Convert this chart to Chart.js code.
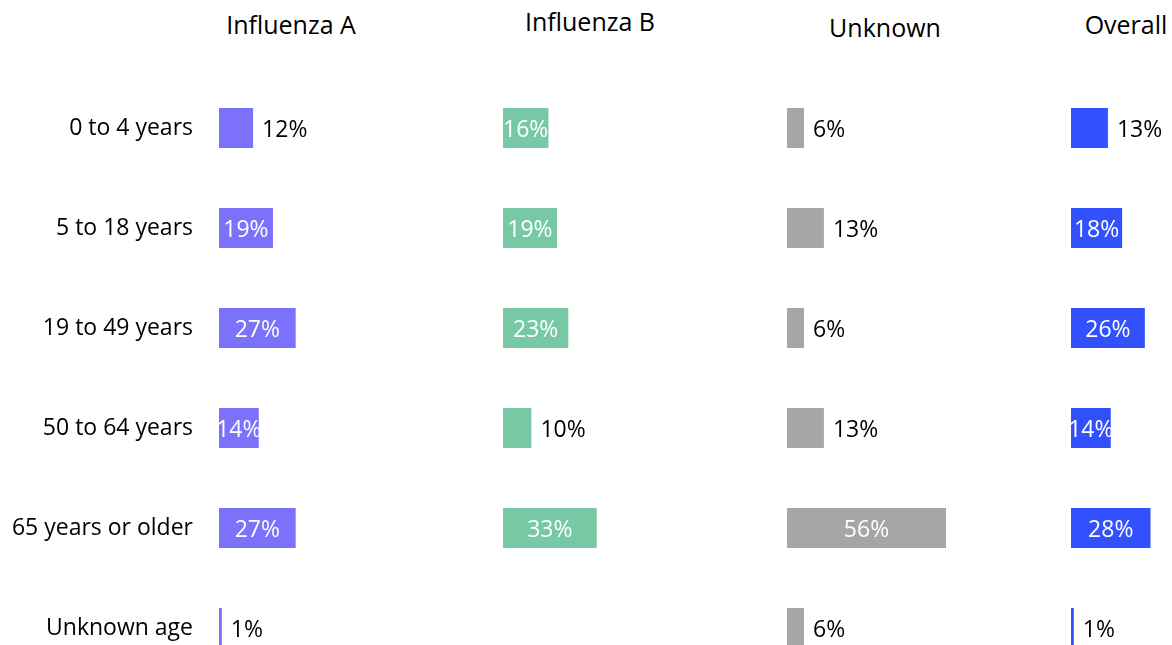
<!DOCTYPE html>
<html>
<head>
<meta charset="utf-8">
<script src="https://cdn.jsdelivr.net/npm/chart.js"></script>
<style>
  html, body { margin: 0; padding: 0; background: #fff; }
  body { width: 1172px; height: 645px; overflow: hidden; position: relative; font-family: "Open Sans", sans-serif; }
  .panel { position: absolute; top: 78px; }
  .title { position: absolute; font-size: 25px; color: #000; white-space: nowrap; transform: translate(-50%, -50%); }
</style>
</head>
<body>
<div class="title" style="left:291px;top:24px">Influenza A</div>
<div class="title" style="left:590px;top:21px">Influenza B</div>
<div class="title" style="left:885px;top:27px">Unknown</div>
<div class="title" style="left:1126px;top:24px">Overall</div>

<canvas id="chartA" class="panel" style="left:0px" width="503" height="600"></canvas>
<canvas id="chartB" class="panel" style="left:503px" width="284" height="600"></canvas>
<canvas id="chartU" class="panel" style="left:787px" width="284" height="600"></canvas>
<canvas id="chartO" class="panel" style="left:1071px" width="284" height="600"></canvas>

<script>
const ageGroups = ["0 to 4 years", "5 to 18 years", "19 to 49 years", "50 to 64 years", "65 years or older", "Unknown age"];
const influenzaA = [12, 19, 27, 14, 27, 1];
const influenzaB = [16, 19, 23, 10, 33, null];
const unknownType = [6, 13, 6, 13, 56, 6];
const overall = [13, 18, 26, 14, 28, 1];

const FONT = "Open Sans";
const INSIDE_MIN = 14;

// percent labels: white centred inside wide bars, black to the right of narrow ones
const barLabels = {
	id: "barLabels",
	afterDatasetsDraw(chart) {
		const ctx = chart.ctx;
		ctx.save();
		ctx.font = `23px "${FONT}"`;
		ctx.textBaseline = "middle";
		chart.data.datasets.forEach((ds, di) => {
			chart.getDatasetMeta(di).data.forEach((bar, i) => {
				const v = ds.data[i];
				if (v == null) return;
				const txt = v + "%";
				if (v >= INSIDE_MIN) {
					ctx.fillStyle = "#ffffff";
					ctx.textAlign = "center";
					ctx.fillText(txt, (bar.base + bar.x) / 2, bar.y + 2);
				} else {
					ctx.fillStyle = "#000000";
					ctx.textAlign = "left";
					ctx.fillText(txt, bar.x + 9, bar.y + 2);
				}
			});
		});
		ctx.restore();
	},
};

function makePanel(id, values, color, showLabels) {
	return new Chart(document.getElementById(id), {
		type: "bar",
		data: {
			labels: ageGroups,
			datasets: [
				{
					data: values,
					backgroundColor: color,
					borderWidth: 0,
					barPercentage: 0.4,
					categoryPercentage: 1.0,
				},
			],
		},
		options: {
			indexAxis: "y",
			responsive: false,
			animation: false,
			layout: { padding: 0 },
			plugins: {
				legend: { display: false },
				tooltip: { enabled: false },
			},
			scales: {
				x: { display: false, min: 0, max: 100 },
				y: {
					display: showLabels,
					border: { display: false },
					grid: { display: false, drawTicks: true, tickLength: 26 },
					ticks: {
						color: "#000",
						padding: 0,
						font: { family: FONT, size: 23 },
					},
					afterFit(scale) {
						if (!showLabels) return;
						scale.width = 219;
						scale.paddingTop = 0;
						scale.paddingBottom = 0;
					},
				},
			},
		},
		plugins: [barLabels],
	});
}

makePanel("chartA", influenzaA, "#7B71FB", true);
makePanel("chartB", influenzaB, "#77C9A5", false);
makePanel("chartU", unknownType, "#A6A6A6", false);
makePanel("chartO", overall, "#3350FD", false);
</script>
</body>
</html>
